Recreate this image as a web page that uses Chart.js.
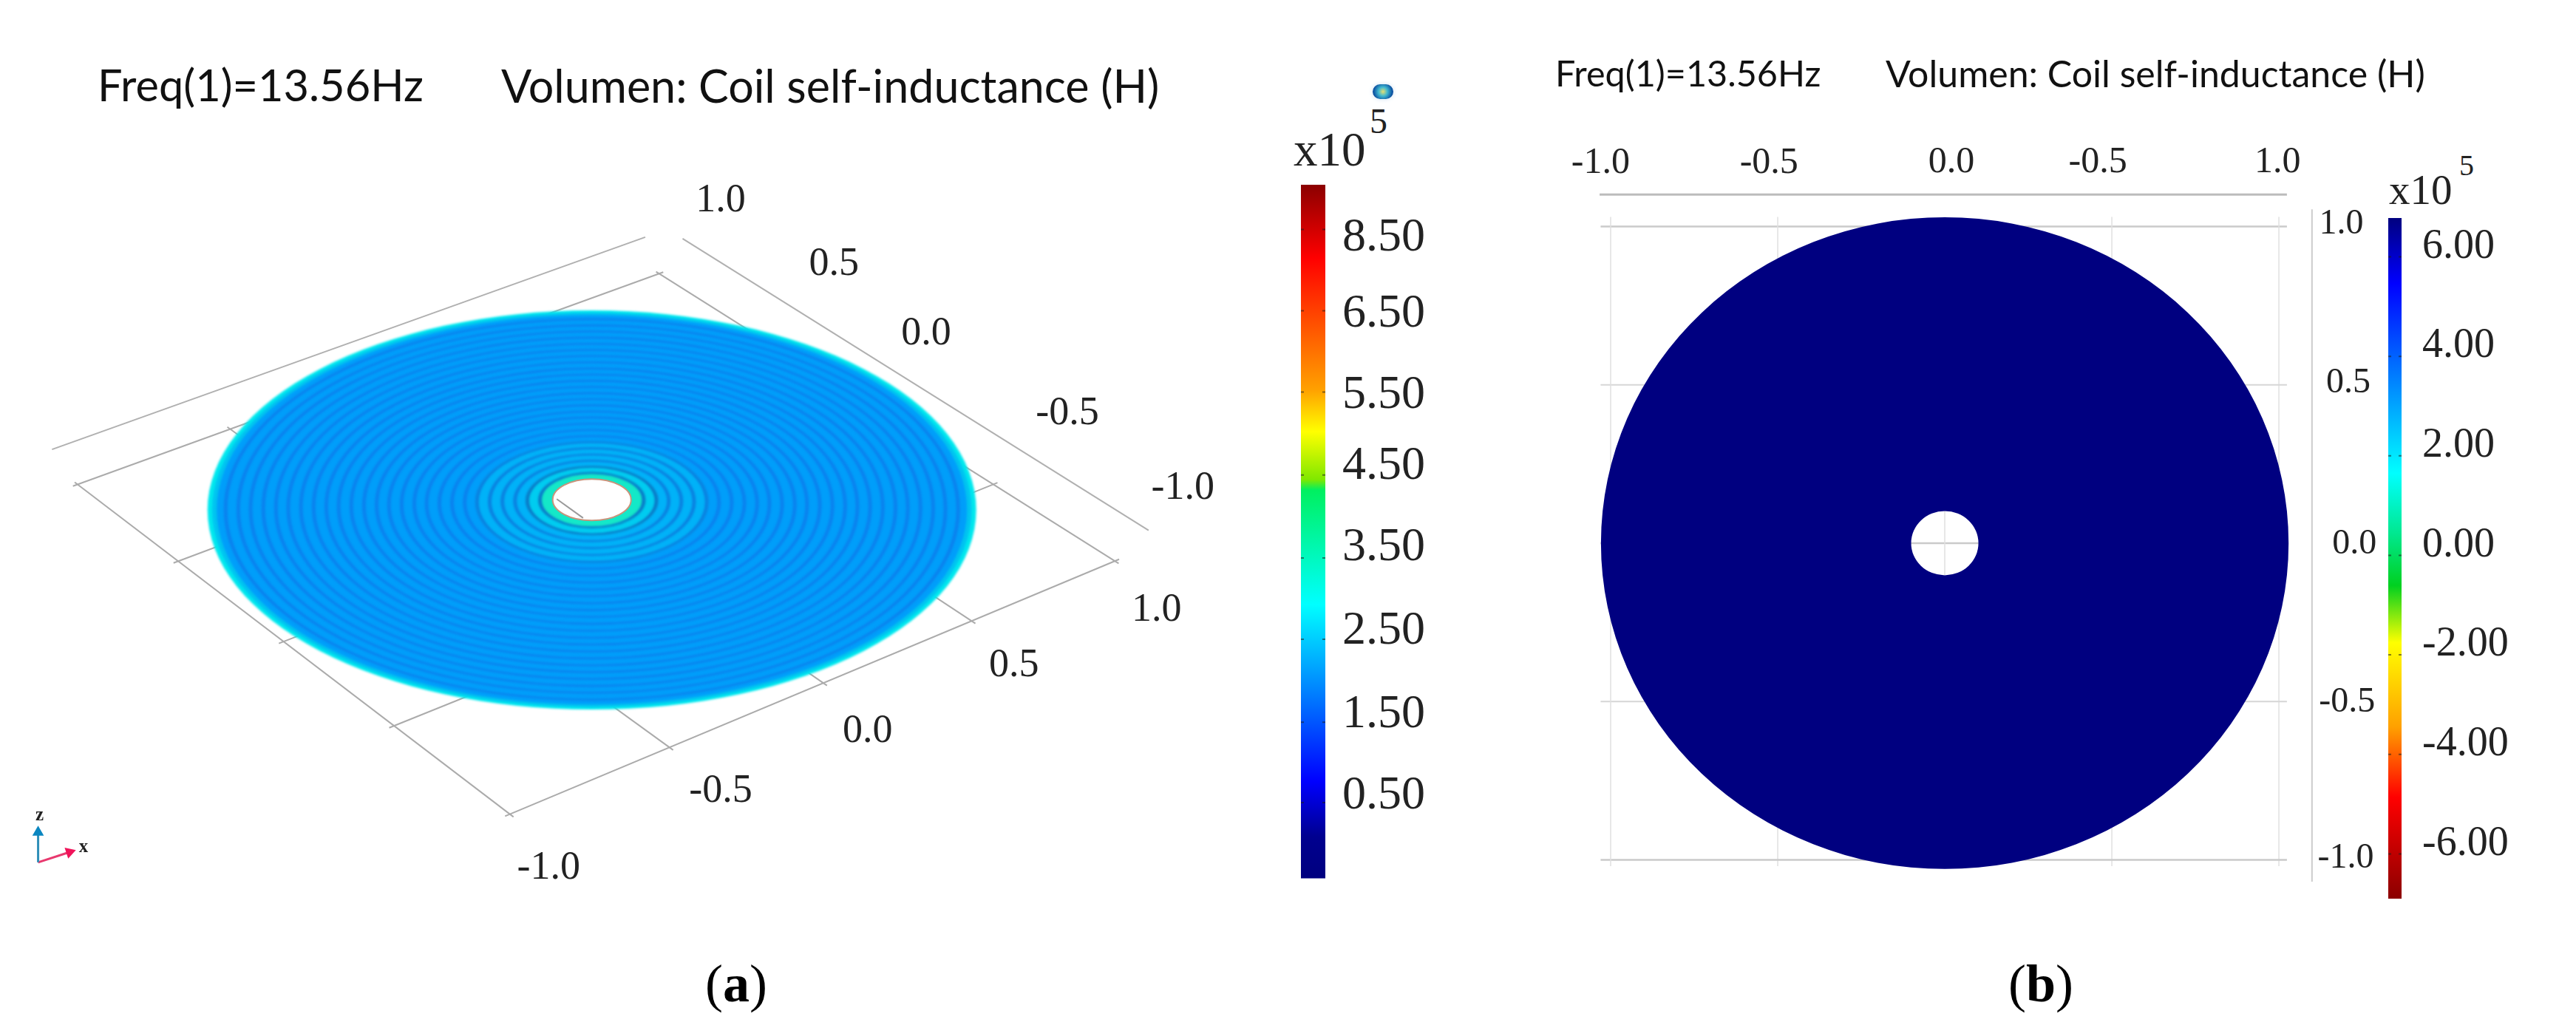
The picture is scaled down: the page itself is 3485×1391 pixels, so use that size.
<!DOCTYPE html>
<html>
<head>
<meta charset="utf-8">
<title>Coil self-inductance</title>
<script src="https://cdn.jsdelivr.net/npm/chart.js@4"></script>
<style>
  html, body { margin: 0; background: #fff; }
  body { position: relative; width: 3485px; height: 1391px; overflow: hidden; }
  canvas { position: absolute; }
  .txt { position: absolute; white-space: nowrap; line-height: 1; color: #111; font-family: Lato, sans-serif; }
  .cap { font-family: "Liberation Serif", serif; font-size: 72px; color: #000; }
  .cap b { font-weight: 700; }
  .sci { font-family: "Liberation Serif", serif; color: #222; }
  #blob { position: absolute; left: 1857px; top: 114px; width: 28px; height: 20px; border-radius: 10px;
          background: radial-gradient(circle at 50% 50%, #e8e070 0, #40b8d0 35%, #0a4fa0 75%); box-shadow: 0 0 6px #cfe0f0; }
</style>
</head>
<body>
<div class="txt" style="left:132px;top:85px;font-size:59.5px">Freq(1)=13.56Hz</div>
<div class="txt" style="left:678px;top:85px;font-size:61px">Volumen: Coil self-inductance (H)</div>
<div class="txt" style="left:2104px;top:74px;font-size:48.5px">Freq(1)=13.56Hz</div>
<div class="txt" style="left:2551px;top:74px;font-size:50px">Volumen: Coil self-inductance (H)</div>
<div class="txt sci" style="left:1750px;top:170px;font-size:65px">x10</div>
<div class="txt sci" style="left:1853px;top:140px;font-size:48px">5</div>
<div class="txt sci" style="left:3232px;top:228px;font-size:57px">x10</div>
<div class="txt sci" style="left:3327px;top:204px;font-size:40px">5</div>
<div id="blob"></div>
<div class="txt cap" style="left:954px;top:1295px">(<b>a</b>)</div>
<div class="txt cap" style="left:2717px;top:1295px">(<b>b</b>)</div>

<canvas id="panelA" width="1740" height="1391" style="left:0;top:0"></canvas>
<canvas id="panelB" width="1145" height="1040" style="left:2080px;top:180px"></canvas>
<canvas id="barA" width="225" height="1100" style="left:1760px;top:150px"></canvas>
<canvas id="barB" width="254" height="1100" style="left:3231px;top:200px"></canvas>

<script>
// axis values
const axisTicks = [-1, -0.5, 0, 0.5, 1];
const lowerAxisLabels = ["-1.0", "-0.5", "0.0", "0.5", "1.0"];
const upperAxisLabels = ["1.0", "0.5", "0.0", "-0.5", "-1.0"];
const topAxisLabelsB = ["-1.0", "-0.5", "0.0", "-0.5", "1.0"];
const rightAxisLabelsB = ["1.0", "0.5", "0.0", "-0.5", "-1.0"];

// colour bars
const barALabels = ["0.50", "1.50", "2.50", "3.50", "4.50", "5.50", "6.50", "8.50"];
const barASlots = [0.46, 1.48, 2.53, 3.58, 4.6, 5.49, 6.51, 7.46];
const barAMarks = [0.38, 1.39, 2.43, 3.45, 4.49, 5.53, 6.55, 7.57];
const barARange = [-0.57, 8.13];
const barAStops = [0, 0.06, 0.14, 0.395, 0.56, 0.575, 0.644, 0.705, 0.894, 1];
const barAColours = ["#00007f", "#00008f", "#0000ff", "#00ffff", "#00f060", "#80e800", "#ffff00", "#ffa000", "#ff0000", "#8b0000"];

const barBTicks = [-6, -4, -2, 0, 2, 4, 6];
const barBMarks = [-6.2, -4.2, -2.2, -0.2, 1.8, 3.8, 5.8];
const barBRange = [-7.1, 6.58];
const barBStops = [0, 0.149, 0.252, 0.376, 0.46, 0.537, 0.625, 0.904, 1];
const barBColours = ["#8b0000", "#ff0000", "#ffa000", "#ffff00", "#00d020", "#00e890", "#00ffff", "#0000ff", "#00007f"];

// coil turns of the (a) disc, as a share of the disc radius
const ringRadii = [0.135, 0.168, 0.2, 0.233, 0.266, 0.299, 0.331, 0.364, 0.397, 0.43, 0.462, 0.495, 0.528, 0.56, 0.593,
  0.626, 0.659, 0.691, 0.724, 0.757, 0.79, 0.822, 0.855, 0.888, 0.92, 0.953];
const holeRadius = 0.102;
// (b) disc in axis units
const discRadiusB = [1.029, 1.029];
const holeRadiusB = [0.1007, 0.1015];

// ---------------- helpers ----------------
const labelFont = '"Liberation Serif", serif';

function lineSet(a, b, colour, width) {
  return { data: [a, b], showLine: true, pointRadius: 0, borderColor: colour, borderWidth: width, clip: false };
}

function pxScales(w, h) {
  return {
    x: { type: "linear", display: false, min: 0, max: w },
    y: { type: "linear", display: false, min: 0, max: h, reverse: true },
  };
}

function baseOptions(scales, plugins) {
  return {
    responsive: false,
    animation: false,
    events: [],
    layout: { padding: 0 },
    scales,
    plugins: Object.assign({ legend: { display: false }, tooltip: { enabled: false }, title: { display: false } }, plugins || {}),
  };
}

// ---------------- PANEL A ----------------
// floor corners for (u,v) = (-1,-1), (1,-1), (1,1), (-1,1), as seen in the 3D view
const floorCorners = [[688, 1107], [1515, 760], [892, 366], [97, 655]];

function makeProjection(c) {
  const [x0, y0] = c[0], [x1, y1] = c[1], [x2, y2] = c[2], [x3, y3] = c[3];
  const dx1 = x1 - x2, dx2 = x3 - x2, sx = x0 - x1 + x2 - x3;
  const dy1 = y1 - y2, dy2 = y3 - y2, sy = y0 - y1 + y2 - y3;
  const den = dx1 * dy2 - dx2 * dy1;
  const g = (sx * dy2 - dx2 * sy) / den;
  const h = (dx1 * sy - sx * dy1) / den;
  const a = x1 - x0 + g * x1, b = x3 - x0 + h * x3;
  const d = y1 - y0 + g * y1, e = y3 - y0 + h * y3;
  return (u, v) => {
    const s = (u + 1) / 2, t = (v + 1) / 2;
    const w = g * s + h * t + 1;
    return { x: (a * s + b * t + x0) / w, y: (d * s + e * t + y0) / w };
  };
}
const project = makeProjection(floorCorners);

const floorSets = [];
axisTicks.forEach((t) => {
  floorSets.push(lineSet(project(t, -1.015), project(t, 1.015), "#ababab", 2));
  floorSets.push(lineSet(project(-1.015, t), project(1.015, t), "#ababab", 2));
});

const wallSets = [
  lineSet({ x: 62, y: 607 }, { x: 873, y: 316 }, "#b0b0b0", 2),
  lineSet({ x: 924, y: 318 }, { x: 1561, y: 718 }, "#b0b0b0", 2),
];

const triadSets = [
  { data: [{ x: 43, y: 1173 }, { x: 43, y: 1132 }], showLine: true, borderColor: "#2f8fb8", borderWidth: 3,
    pointStyle: "triangle", pointRadius: [0, 9], pointBackgroundColor: "#0a86c0", pointBorderWidth: 0, rotation: 0 },
  { data: [{ x: 43, y: 1173 }, { x: 86, y: 1159 }], showLine: true, borderColor: "#e8386e", borderWidth: 3,
    pointStyle: "triangle", pointRadius: [0, 9], pointBackgroundColor: "#f0145a", pointBorderWidth: 0, rotation: 72 },
];

const discA = { cx: 800, cy: 690, rx: 520, ry: 270, holeCy: 676, holeRy: 28 };
const ringBand = (r) => (r < 0.14 ? "#14e8c8" : r < 0.17 ? "#00ccf0" : r < 0.3 ? "#00b2f8" : "#009efa");
const ringLine = (r) => (r < 0.17 ? "#0a7cc8" : r < 0.3 ? "#0a82e0" : "#0a82ee");

const labelSpotsA = {
  lower: [[741, 1181], [976, 1076], [1177, 994], [1377, 904], [1572, 828]],
  upper: [[976, 266], [1131, 353], [1257, 449], [1450, 558], [1608, 660]],
};

const discPlugin = {
  id: "discA",
  afterDatasetsDraw(chart) {
    const { ctx, scales: { x, y } } = chart;
    const cx = x.getPixelForValue(discA.cx);
    const ellipseAt = (r) => {
      const k = (r - holeRadius) / (1 - holeRadius);
      return {
        cy: y.getPixelForValue(discA.holeCy + (discA.cy - discA.holeCy) * k),
        rx: discA.rx * r,
        ry: discA.holeRy + (discA.ry - discA.holeRy) * k,
      };
    };
    const fillEllipse = (r, colour) => {
      const e = ellipseAt(r);
      ctx.fillStyle = colour;
      ctx.beginPath(); ctx.ellipse(cx, e.cy, e.rx, e.ry, 0, 0, Math.PI * 2); ctx.fill();
    };
    ctx.save();
    ctx.filter = "blur(1.6px)";
    fillEllipse(1, "#00e8ee");
    fillEllipse(0.988, "#00c4f0");
    fillEllipse(0.976, "#009efa");
    for (let i = ringRadii.length - 1; i >= 0; i--) {
      const r = ringRadii[i];
      const e = ellipseAt(r);
      ctx.save();
      ctx.translate(cx, e.cy);
      ctx.scale(1, e.ry / e.rx);
      ctx.beginPath();
      ctx.arc(0, 0, e.rx, 0, Math.PI * 2);
      ctx.fillStyle = ringBand(r);
      ctx.fill();
      ctx.lineWidth = 5;
      ctx.strokeStyle = ringLine(r);
      ctx.stroke();
      ctx.restore();
    }
    // hole with the bit of floor line seen through it
    const e = ellipseAt(holeRadius);
    ctx.filter = "none";
    ctx.fillStyle = "#fff";
    ctx.strokeStyle = "#c8947c";
    ctx.lineWidth = 2;
    ctx.beginPath(); ctx.ellipse(cx, e.cy, e.rx, e.ry, 0, 0, Math.PI * 2); ctx.fill(); ctx.stroke();
    ctx.strokeStyle = "#9a9a9a";
    ctx.beginPath();
    ctx.moveTo(x.getPixelForValue(752), y.getPixelForValue(675));
    ctx.lineTo(x.getPixelForValue(788), y.getPixelForValue(701));
    ctx.stroke();
    ctx.restore();

    // oblique tick labels
    ctx.save();
    ctx.font = "54px " + labelFont;
    ctx.fillStyle = "#222";
    ctx.textAlign = "center";
    ctx.textBaseline = "middle";
    lowerAxisLabels.forEach((t, i) => {
      const p = labelSpotsA.lower[i];
      ctx.fillText(t, x.getPixelForValue(p[0]), y.getPixelForValue(p[1]));
    });
    upperAxisLabels.forEach((t, i) => {
      const p = labelSpotsA.upper[i];
      ctx.fillText(t, x.getPixelForValue(p[0]), y.getPixelForValue(p[1]));
    });
    ctx.font = "bold 25px " + labelFont;
    ctx.fillText("z", x.getPixelForValue(45), y.getPixelForValue(1109));
    ctx.fillText("x", x.getPixelForValue(105), y.getPixelForValue(1152));
    ctx.restore();
  },
};

new Chart(document.getElementById("panelA"), {
  type: "scatter",
  data: { datasets: [...wallSets, ...floorSets, ...triadSets] },
  options: baseOptions(pxScales(1740, 1391)),
  plugins: [discPlugin],
});

// ---------------- PANEL B ----------------
// canvas sits at (2080,180), size 1145x1040; x: 452 px per unit around 2631, y: 428.5 px per unit around 735
const scalesB = {
  x: { type: "linear", display: false, min: -1.219, max: 1.314 },
  y: { type: "linear", display: false, min: -1.132, max: 1.295 },
};

const gridSetsB = [];
axisTicks.forEach((t) => {
  const heavy = Math.abs(t) === 1 || t === 0;
  gridSetsB.push(lineSet({ x: t, y: 1.03 }, { x: t, y: -1.02 }, "#e0e0e0", 1.5));
  gridSetsB.push(lineSet({ x: -1.03, y: t }, { x: 1.024, y: t }, heavy ? "#cacaca" : "#d6d6d6", heavy ? 2.5 : 2));
});
const frameSetsB = [
  lineSet({ x: -1.033, y: 1.101 }, { x: 1.024, y: 1.101 }, "#bcbcbc", 3),
  lineSet({ x: 1.099, y: 1.054 }, { x: 1.099, y: -1.069 }, "#cccccc", 2),
];

const labelSpotsB = {
  top: [[-1.03, 1.2], [-0.526, 1.2], [0.02, 1.203], [0.458, 1.203], [0.996, 1.203]],
  right: [[1.187, 1.007], [1.208, 0.505], [1.226, -0.003], [1.204, -0.503], [1.2, -0.995]],
};

const discPluginB = {
  id: "discB",
  afterDatasetsDraw(chart) {
    const { ctx, scales: { x, y } } = chart;
    const cx = x.getPixelForValue(0), cy = y.getPixelForValue(0);
    const rx = x.getPixelForValue(discRadiusB[0]) - cx, ry = cy - y.getPixelForValue(discRadiusB[1]);
    const hx = x.getPixelForValue(holeRadiusB[0]) - cx, hy = cy - y.getPixelForValue(holeRadiusB[1]);
    ctx.save();
    ctx.fillStyle = "#000080";
    ctx.beginPath();
    ctx.ellipse(cx, cy, rx, ry, 0, 0, Math.PI * 2);
    ctx.ellipse(cx, cy, hx, hy, 0, 0, Math.PI * 2);
    ctx.fill("evenodd");

    ctx.fillStyle = "#222";
    ctx.textAlign = "center";
    ctx.textBaseline = "middle";
    ctx.font = "50px " + labelFont;
    topAxisLabelsB.forEach((t, i) => {
      const p = labelSpotsB.top[i];
      ctx.fillText(t, x.getPixelForValue(p[0]), y.getPixelForValue(p[1]));
    });
    ctx.font = "48px " + labelFont;
    rightAxisLabelsB.forEach((t, i) => {
      const p = labelSpotsB.right[i];
      ctx.fillText(t, x.getPixelForValue(p[0]), y.getPixelForValue(p[1]));
    });
    ctx.restore();
  },
};

new Chart(document.getElementById("panelB"), {
  type: "scatter",
  data: { datasets: [...gridSetsB, ...frameSetsB] },
  options: baseOptions(scalesB),
  plugins: [discPluginB],
});

// ---------------- COLOUR BARS ----------------
function barGradient(stops, colours) {
  return (c) => {
    const area = c.chart.chartArea;
    if (!area) return "#000080";
    const g = c.chart.ctx.createLinearGradient(0, area.bottom, 0, area.top);
    stops.forEach((s, i) => g.addColorStop(s, colours[i]));
    return g;
  };
}

// little tick marks on both edges of the bar
function edgeMarks(marks) {
  return {
    id: "edgeMarks",
    afterDatasetsDraw(chart) {
      const { ctx, chartArea: a, scales: { y } } = chart;
      ctx.save();
      ctx.strokeStyle = "rgba(30,30,30,0.55)";
      ctx.lineWidth = 2;
      marks.forEach((m) => {
        const py = y.getPixelForValue(m);
        ctx.beginPath();
        ctx.moveTo(a.left, py); ctx.lineTo(a.left + 4, py);
        ctx.moveTo(a.right - 4, py); ctx.lineTo(a.right, py);
        ctx.stroke();
      });
      ctx.restore();
    },
  };
}

function colourBar(id, cfg) {
  new Chart(document.getElementById(id), {
    type: "bar",
    data: {
      labels: ["H"],
      datasets: [{
        data: [cfg.range],
        backgroundColor: barGradient(cfg.stops, cfg.colours),
        barPercentage: 1,
        categoryPercentage: 1,
      }],
    },
    options: baseOptions({
      x: { display: false },
      y: {
        position: "right",
        min: cfg.range[0],
        max: cfg.range[1],
        grid: { display: false, drawTicks: false, tickLength: 0 },
        border: { display: false },
        afterFit(axis) { axis.width = cfg.axisWidth; },
        afterBuildTicks(axis) { axis.ticks = cfg.ticks.map((v) => ({ value: v })); },
        ticks: {
          autoSkip: false,
          padding: cfg.pad,
          color: "#222",
          font: { family: "Liberation Serif", size: cfg.size },
          callback: cfg.label,
        },
      },
    }),
    plugins: [edgeMarks(cfg.marks)],
  });
}

colourBar("barA", {
  range: barARange, stops: barAStops, colours: barAColours, ticks: barASlots, marks: barAMarks,
  axisWidth: 192, pad: 23, size: 64,
  label: (v) => barALabels[barASlots.indexOf(v)],
});
Chart.getChart("barA").options.layout.padding = { top: 100, bottom: 57 };
Chart.getChart("barA").update();

colourBar("barB", {
  range: barBRange, stops: barBStops, colours: barBColours, ticks: barBTicks, marks: barBMarks,
  axisWidth: 236, pad: 28, size: 56,
  label: (v) => v.toFixed(2),
});
Chart.getChart("barB").options.layout.padding = { top: 95, bottom: 84 };
Chart.getChart("barB").update();
</script>
</body>
</html>
